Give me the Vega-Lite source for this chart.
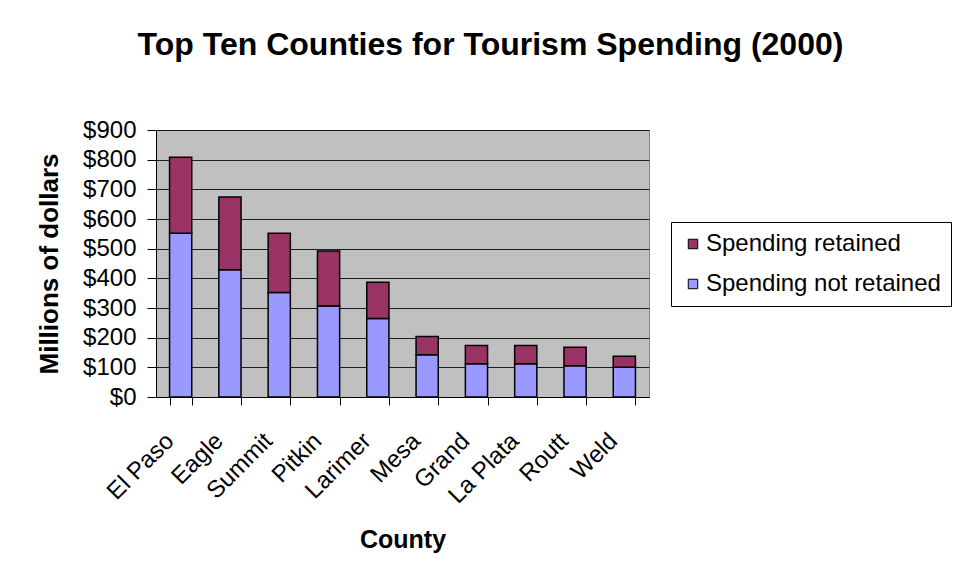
{
  "$schema": "https://vega.github.io/schema/vega-lite/v6.json",
  "width": 493,
  "height": 267,
  "autosize": {"type": "none"},
  "padding": {"left": 156, "top": 130, "right": 310, "bottom": 189},
  "background": "white",
  "title": {
    "text": "Top Ten Counties for Tourism Spending (2000)",
    "fontSize": 32,
    "fontWeight": "bold",
    "font": "Liberation Sans",
    "color": "black",
    "anchor": "middle",
    "dx": 88,
    "offset": 56
  },
  "data": {
    "values": [
      {"county": "El Paso", "type": "Spending not retained", "value": 552},
      {"county": "El Paso", "type": "Spending retained", "value": 256},
      {"county": "Eagle", "type": "Spending not retained", "value": 429},
      {"county": "Eagle", "type": "Spending retained", "value": 245},
      {"county": "Summit", "type": "Spending not retained", "value": 352},
      {"county": "Summit", "type": "Spending retained", "value": 200},
      {"county": "Pitkin", "type": "Spending not retained", "value": 307},
      {"county": "Pitkin", "type": "Spending retained", "value": 185},
      {"county": "Larimer", "type": "Spending not retained", "value": 265},
      {"county": "Larimer", "type": "Spending retained", "value": 122},
      {"county": "Mesa", "type": "Spending not retained", "value": 142},
      {"county": "Mesa", "type": "Spending retained", "value": 62},
      {"county": "Grand", "type": "Spending not retained", "value": 112},
      {"county": "Grand", "type": "Spending retained", "value": 62},
      {"county": "La Plata", "type": "Spending not retained", "value": 112},
      {"county": "La Plata", "type": "Spending retained", "value": 62},
      {"county": "Routt", "type": "Spending not retained", "value": 105},
      {"county": "Routt", "type": "Spending retained", "value": 63},
      {"county": "Weld", "type": "Spending not retained", "value": 100},
      {"county": "Weld", "type": "Spending retained", "value": 37}
    ]
  },
  "mark": {"type": "bar", "stroke": "black", "strokeWidth": 1.5},
  "encoding": {
    "x": {
      "field": "county",
      "type": "nominal",
      "sort": null,
      "scale": {"paddingInner": 0.55, "paddingOuter": 0.275},
      "axis": {
        "title": "County",
        "titleFontSize": 25,
        "titleFontWeight": "bold",
        "titleColor": "black",
        "titlePadding": 20,
        "labelAngle": -45,
        "labelAlign": "right",
        "labelBaseline": "middle",
        "labelFontSize": 24,
        "labelColor": "black",
        "labelPadding": 32,
        "labelOffset": -11,
        "tickBand": "extent",
        "tickSize": 8,
        "tickColor": "black",
        "domainColor": "black",
        "grid": false
      }
    },
    "y": {
      "field": "value",
      "type": "quantitative",
      "stack": "zero",
      "scale": {"domain": [0, 900], "nice": false},
      "axis": {
        "title": "Millions of dollars",
        "titleFontSize": 26,
        "titleFontWeight": "bold",
        "titleColor": "black",
        "titlePadding": 20,
        "values": [0, 100, 200, 300, 400, 500, 600, 700, 800, 900],
        "format": "$,.0f",
        "labelFontSize": 24,
        "labelColor": "black",
        "labelPadding": 11,
        "tickSize": 9,
        "tickColor": "black",
        "domainColor": "black",
        "gridColor": "black",
        "gridOpacity": 0.85
      }
    },
    "color": {
      "field": "type",
      "type": "nominal",
      "scale": {
        "domain": ["Spending retained", "Spending not retained"],
        "range": ["#993366", "#9999FF"]
      },
      "legend": {
        "title": null,
        "orient": "none",
        "legendX": 515,
        "legendY": 92,
        "direction": "vertical",
        "strokeColor": "black",
        "fillColor": "white",
        "padding": 10,
        "symbolType": "square",
        "symbolSize": 90,
        "symbolStrokeColor": "black",
        "symbolStrokeWidth": 1,
        "symbolOpacity": 1,
        "labelFontSize": 24,
        "labelColor": "black",
        "labelOffset": 1,
        "labelLimit": 400,
        "rowPadding": 16
      }
    },
    "order": {"field": "type", "sort": "ascending"}
  },
  "config": {
    "font": "Liberation Sans",
    "view": {"fill": "#C0C0C0", "stroke": "#808080"}
  }
}
